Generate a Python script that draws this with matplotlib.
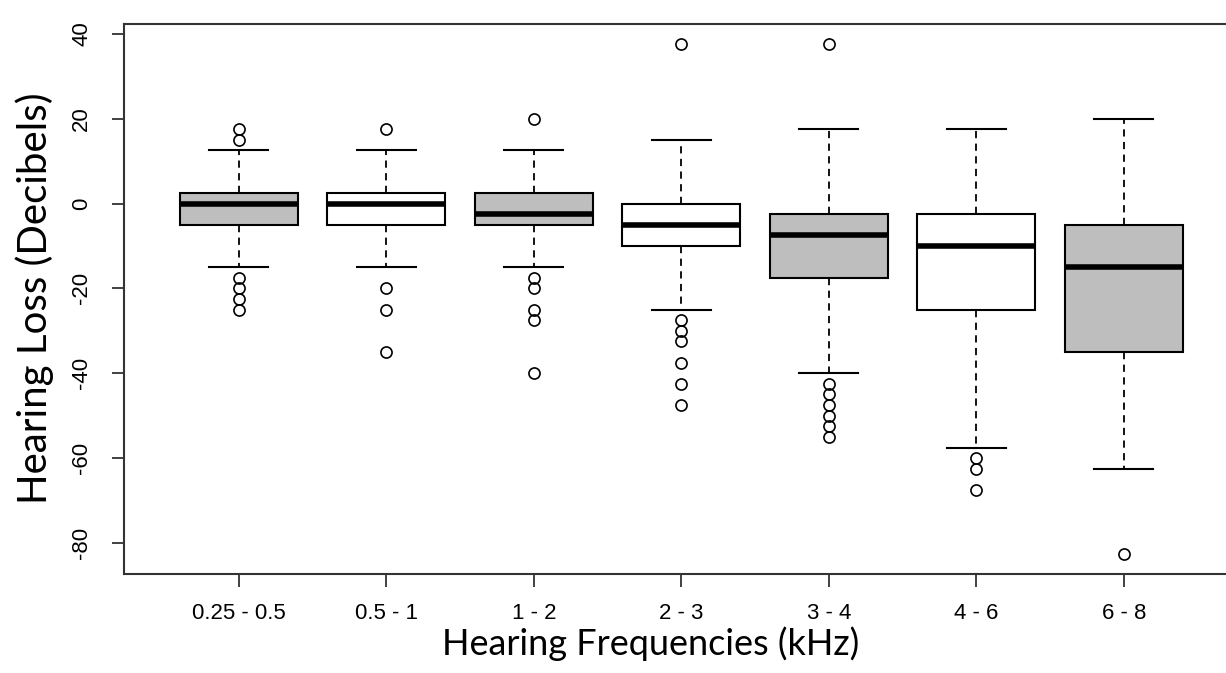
import matplotlib
matplotlib.use("Agg")
import matplotlib.pyplot as plt

# frequency bands (kHz)
bands = ["0.25 - 0.5", "0.5 - 1", "1 - 2", "2 - 3", "3 - 4", "4 - 6", "6 - 8"]

# box statistics (decibels)
medians = [0, 0, -2.5, -5, -7.5, -10, -15]
q1 = [-5, -5, -5, -10, -17.5, -25, -35]
q3 = [2.5, 2.5, 2.5, 0, -2.5, -2.5, -5]
whis_lo = [-15, -15, -15, -25, -40, -57.5, -62.5]
whis_hi = [12.5, 12.5, 12.5, 15, 17.5, 17.5, 20]
outliers = [
    [17.5, 15, -17.5, -20, -22.5, -25],
    [17.5, -20, -25, -35],
    [20, -17.5, -20, -25, -27.5, -40],
    [37.5, -27.5, -30, -32.5, -37.5, -42.5, -47.5],
    [37.5, -42.5, -45, -47.5, -50, -52.5, -55],
    [-60, -62.5, -67.5],
    [-82.5],
]
fills = ["#bebebe", "white", "#bebebe", "white", "#bebebe", "white", "#bebebe"]

stats = []
for i in range(len(bands)):
    stats.append(dict(med=medians[i], q1=q1[i], q3=q3[i],
                      whislo=whis_lo[i], whishi=whis_hi[i],
                      fliers=outliers[i], label=bands[i]))

fig = plt.figure(figsize=(12.26, 6.73), dpi=100)
# axes run past the right edge, as in the cropped original
ax = fig.add_axes([0.1011, 0.1471, 0.9095, 0.8172])

bp = ax.bxp(stats, positions=range(1, 8), widths=0.8, patch_artist=True,
            boxprops=dict(edgecolor="black", linewidth=1.5),
            medianprops=dict(color="black", linewidth=4, solid_capstyle="butt"),
            whiskerprops=dict(color="black", linewidth=1.3, linestyle=(0, (4, 3))),
            capprops=dict(color="black", linewidth=1.5),
            capwidths=0.4,
            flierprops=dict(marker="o", markersize=8, markerfacecolor="none",
                            markeredgecolor="black", markeredgewidth=1.2))
for patch, c in zip(bp["boxes"], fills):
    patch.set_facecolor(c)

ax.set_xlim(0.22, 7.78)
ax.set_ylim(-87.3, 42.3)
ax.set_yticks([40, 20, 0, -20, -40, -60, -80])
ax.set_yticklabels(["40", "20", "0", "-20", "-40", "-60", "-80"],
                   rotation=90, va="center", fontsize=16, family="Liberation Sans")
ax.set_xticks(range(1, 8))
ax.set_xticklabels(bands, fontsize=16, family="Liberation Sans")
ax.tick_params(axis="both", length=9, width=1.3, color="#333333")
ax.tick_params(axis="x", pad=12)
ax.tick_params(axis="y", pad=14)
for s in ax.spines.values():
    s.set_linewidth(1.5)
    s.set_color("#333333")

fig.text(651 / 1226, 1 - 655 / 673, "Hearing Frequencies (kHz)", fontsize=26,
         family="Lato", ha="center", va="baseline")
fig.text(35 / 1226, 1 - 298 / 673, "Hearing Loss (Decibels)", fontsize=29,
         family="Lato", ha="center", va="center", rotation=90)

fig.savefig("out.png", dpi=100)
